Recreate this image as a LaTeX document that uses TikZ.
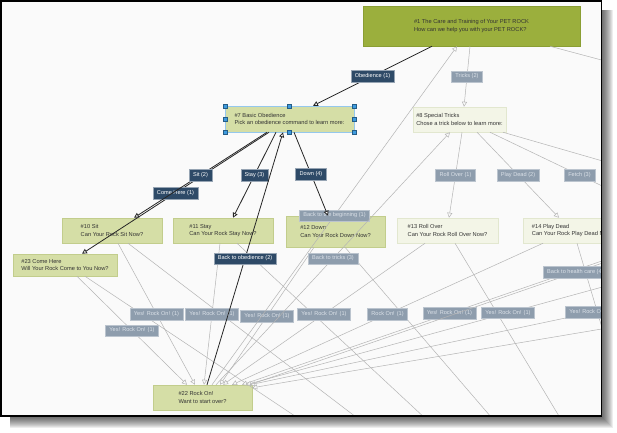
\documentclass[tikz,border=0pt]{standalone}
\usepackage{fontspec}
\setmainfont{Liberation Sans}
\usetikzlibrary{arrows.meta}

\definecolor{canvas}{HTML}{FAFAFA}
\definecolor{rockgreen}{HTML}{9BAF3D}
\definecolor{rockline}{HTML}{8A9E33}
\definecolor{sage}{HTML}{D5DEA6}
\definecolor{sageline}{HTML}{C2CD8C}
\definecolor{pale}{HTML}{F3F5E7}
\definecolor{paleline}{HTML}{E2E7CF}
\definecolor{navy}{HTML}{2E4A67}
\definecolor{slate}{HTML}{8E9DAD}
\definecolor{slatetext}{HTML}{DCE2E9}
\definecolor{wiregray}{HTML}{B4B4B4}
\definecolor{handle}{HTML}{3E9BDF}

\begin{document}
\begin{tikzpicture}[x=1pt, y=-1pt,
    every node/.style={font=\fontsize{5.7}{7.6}\selectfont},
    page/.style={rectangle, align=left, text=black!80, line width=.5pt},
    toppage/.style={page, fill=rockgreen, draw=rockline},
    sagepage/.style={page, fill=sage, draw=sageline},
    palepage/.style={page, fill=pale, draw=paleline},
    picked/.style={draw=handle!55},
    tag/.style={midway, rectangle, inner xsep=4pt, inner ysep=0pt, minimum height=11.5pt,
        font=\fontsize{5.6}{6}\selectfont, line width=.4pt},
    pick/.style={tag, fill=navy, draw=navy!50!white, text=white},
    link/.style={tag, fill=slate, draw=slate!60!white, text=slatetext},
    wire/.style={draw=wiregray, line width=.5pt, -{Triangle[length=5pt, width=5pt, fill=canvas]}},
    bold/.style={draw=black!85, line width=.8pt, -{Triangle[length=5pt, width=5pt, fill=canvas]}},
    grip/.style={fill=handle, draw=handle!60!black, line width=.3pt},
]
\useasboundingbox (0,0) rectangle (617,432);
\foreach \k in {0,...,10}
    \fill[black, opacity=.07] (10,10) rectangle (613-\k,428-\k); % shadow
\fill[canvas] (0,0) rectangle (601.5,416);

\begin{scope}
\clip (0,0) rectangle (601.5,416);
% pages
\node[toppage, minimum width=217pt, minimum height=40pt] (n1) at (471.5,26)
    {\#1 The Care and Training of Your PET ROCK\\How can we help you with your PET ROCK?};
\node[sagepage, picked, minimum width=129pt, minimum height=26pt] (n7) at (289.5,119)
    {\#7 Basic Obedience\\Pick an obedience command to learn more:};
\node[palepage, minimum width=93pt, minimum height=25pt] (n8) at (459.5,119.5)
    {\#8 Special Tricks\\Chose a trick below to learn more:};
\node[sagepage, minimum width=100pt, minimum height=25pt] (n10) at (112,230.5)
    {\#10 Sit\\Can Your Rock Sit Now?};
\node[sagepage, minimum width=100pt, minimum height=25pt] (n11) at (223,230.5)
    {\#11 Stay\\Can Your Rock Stay Now?};
\node[sagepage, minimum width=99pt, minimum height=31pt] (n12) at (335.5,231.5)
    {\#12 Down\\Can Your Rock Down Now?};
\node[palepage, minimum width=101pt, minimum height=25pt] (n13) at (447.5,230.5)
    {\#13 Roll Over\\Can Your Rock Roll Over Now?};
\node[palepage, minimum width=100pt, minimum height=25pt] (n14) at (573,230.5)
    {\#14 Play Dead\\Can Your Rock Play Dead Now?};
\node[sagepage, minimum width=104pt, minimum height=22pt] (n23) at (65,265)
    {\#23 Come Here\\Will Your Rock Come to You Now?};
\node[sagepage, minimum width=99pt, minimum height=25pt] (n22) at (202.5,397.5)
    {\#22 Rock On!\\Want to start over?};

% pages outside the view
\coordinate (care) at (901,150);
\coordinate (fetch) at (669,218);
\coordinate (fetchb) at (657,242);
\coordinate (trick) at (800,218);
\coordinate (trickb) at (770,241);
\coordinate (far) at (934,240);
\coordinate (farther) at (1000,262);
\coordinate (no23) at (340,446);
\coordinate (no10) at (394,446);
\coordinate (no11) at (455,446);
\coordinate (no12) at (516,446);
\coordinate (no13) at (577,446);
\coordinate (no14) at (637,446);

% answers
\draw[wire] ([xshift=-1.5pt]n1.south) -- node[link] {Tricks (2)} ([xshift=4.5pt]n8.north);
\draw[wire] ([xshift=78.5pt]n1.south) -- ([yshift=10pt]care);
\draw[wire] ([xshift=2.5pt]n8.south) -- node[link] {Roll Over (1)} ([xshift=1.5pt]n13.north);
\draw[wire] ([xshift=17.5pt]n8.south) -- node[link] {Play Dead (2)} ([xshift=-14pt]n14.north);
\draw[wire] ([xshift=30.5pt]n8.south) -- node[link] {Fetch (3)} (fetch);
\draw[wire] ([xshift=43.5pt]n8.south) -- (trick);

\draw[wire] ([xshift=20pt]n23.south) -- (no23);
\draw[wire] ([xshift=16pt]n10.south) -- (no10);
\draw[wire] ([xshift=14pt]n11.south) -- (no11);
\draw[wire] ([xshift=9.5pt]n12.south) -- (no12);
\draw[wire] ([xshift=7.5pt]n13.south) -- (no13);
\draw[wire] ([xshift=4pt]n14.south) -- (no14);

\draw[wire] ([xshift=12pt]n23.south) -- node[link] {Yes! Rock On! (1)} ([xshift=-15.5pt]n22.north);
\draw[wire] ([xshift=6pt]n10.south) -- node[link] {Yes! Rock On! (1)} ([xshift=-7.5pt]n22.north);
\draw[wire] ([xshift=-3pt]n11.south) -- node[link] {Yes! Rock On! (1)} ([xshift=1.5pt]n22.north);
\draw[wire] ([xshift=-21.5pt]n12.south) -- node[link] {Yes! Rock On! (1)} ([xshift=17.5pt]n22.north);
\draw[wire] ([xshift=-22.5pt]n13.south) -- node[link] {Yes! Rock On! (1)} ([xshift=20.5pt]n22.north);
\draw[wire] ([xshift=-30pt]n14.south) -- node[link] {Rock On! (1)} ([xshift=29.5pt]n22.north);
\draw[wire] (fetchb) -- node[link] {Yes! Rock On! (1)} ([xshift=39.5pt]n22.north);
\draw[wire] (trickb) -- node[link] {Yes! Rock On! (1)} ([xshift=43.5pt]n22.north);
\draw[wire] (far) -- node[link] {Yes! Rock On! (1)} ([xshift=47.5pt]n22.north);
\draw[wire] (farther) -- ([yshift=-3pt]n22.north east);

\draw[wire] ([xshift=9.5pt]n22.north) -- node[link] {Back to the beginning (1)} ([xshift=-14.5pt]n1.south);
\draw[wire] ([xshift=13.5pt]n22.north) -- node[link] {Back to tricks (3)} ([xshift=-9.5pt]n8.south);
\draw[wire] ([xshift=-2.5pt]n22.north east) -- node[link] {Back to health care (4)} ([yshift=-10pt]care);

% the selected page
\draw[bold] ([xshift=-39.5pt]n1.south) -- node[pick] {Obedience (1)} ([xshift=23.5pt]n7.north);
\draw[bold] ([xshift=-20.5pt]n7.south) -- node[pick] {Come Here (1)} ([xshift=17pt]n23.north);
\draw[bold] ([xshift=-22.5pt]n7.south) -- node[pick] {Sit (2)} ([xshift=22pt]n10.north);
\draw[bold] ([xshift=-13.5pt]n7.south) -- node[pick] {Stay (3)} ([xshift=10pt]n11.north);
\draw[bold] ([xshift=4.5pt]n7.south) -- node[pick] {Down (4)} ([xshift=-7.5pt]n12.north);
\draw[bold] ([xshift=4.5pt]n22.north) -- node[pick] {Back to obedience (2)} ([xshift=-6.5pt]n7.south);

\foreach \a in {north west, north, north east, west, east, south west, south, south east}
    \filldraw[grip] ([shift={(-2pt,-2pt)}]n7.\a) rectangle ([shift={(2pt,2pt)}]n7.\a);
\end{scope}

\draw[line width=1.5pt] (0.75,0.75) rectangle (601.5,416.2); % frame
\end{tikzpicture}
\end{document}
